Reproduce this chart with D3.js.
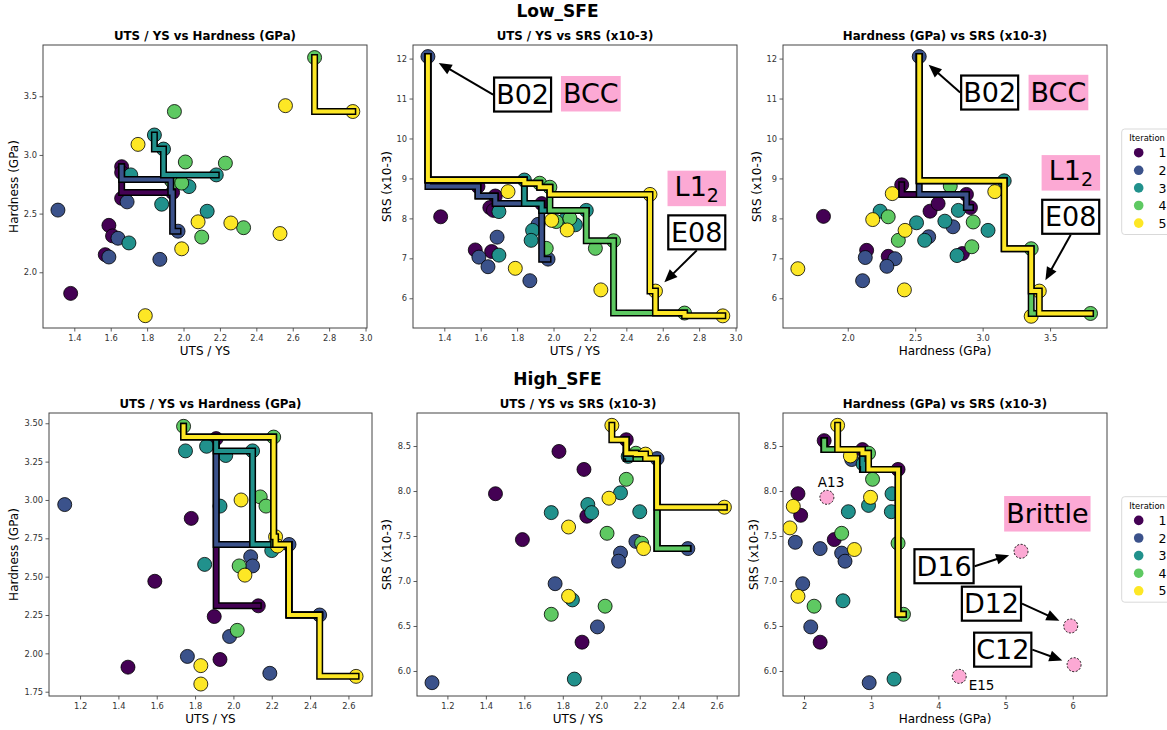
<!DOCTYPE html>
<html>
<head>
<meta charset="utf-8">
<script src="https://cdn.jsdelivr.net/npm/d3@7"></script>
<style>
  body { margin: 0; background: #fff; }
  svg { display: block; font-family: "DejaVu Sans", sans-serif; }
</style>
</head>
<body>
<svg id="chart" width="1167" height="730"></svg>
<script>
const iterations = [1, 2, 3, 4, 5];
const iterColors = ["#440154", "#3b528b", "#21918c", "#5ec962", "#fde725"];
const pink = "#fca9d4";

// points are [iteration, x, y]
const lowUtsHard = [
  [1, 1.66, 2.9], [1, 1.66, 2.85], [1, 1.94, 2.68], [1, 1.66, 2.63], [1, 1.59, 2.4], [1, 1.61, 2.31], [1, 1.57, 2.15], [1, 1.38, 1.82],
  [2, 1.31, 2.53], [2, 1.93, 2.79], [2, 1.97, 2.35], [2, 1.69, 2.6], [2, 1.64, 2.29], [2, 1.59, 2.13], [2, 1.87, 2.11],
  [3, 1.84, 3.17], [3, 1.89, 3.05], [3, 2.18, 2.83], [3, 1.71, 2.83], [3, 2.03, 2.73], [3, 1.88, 2.58], [3, 2.13, 2.52], [3, 1.7, 2.25],
  [4, 2.72, 3.83], [4, 1.95, 3.37], [4, 2.01, 2.94], [4, 2.23, 2.93], [4, 1.94, 2.77], [4, 1.99, 2.76], [4, 2.33, 2.38], [4, 2.1, 2.3],
  [5, 2.56, 3.42], [5, 2.93, 3.37], [5, 1.75, 3.09], [5, 2.08, 2.43], [5, 2.26, 2.42], [5, 2.53, 2.33], [5, 1.99, 2.2], [5, 1.79, 1.63]
];

const lowUtsSrs = [
  [1, 1.38, 8.04], [1, 1.585, 8.8], [1, 1.68, 8.56], [1, 1.65, 8.27], [1, 1.67, 8.2], [1, 1.935, 8.37], [1, 1.57, 7.21], [1, 1.66, 7.17],
  [2, 1.31, 12.05], [2, 1.69, 7.53], [2, 1.59, 7.03], [2, 1.64, 6.79], [2, 1.97, 6.98], [2, 1.87, 6.44], [2, 1.915, 7.85],
  [3, 1.84, 8.96], [3, 1.7, 8.17], [3, 1.7, 7.08], [3, 1.885, 7.7], [3, 1.877, 7.45], [3, 2.12, 7.84], [3, 2.18, 8.2], [3, 2.06, 7.95],
  [4, 1.924, 8.88], [4, 1.98, 8.78], [4, 1.96, 7.25], [4, 2.015, 7.92], [4, 2.09, 8.0], [4, 2.23, 7.25], [4, 2.33, 7.44], [4, 2.72, 5.63],
  [5, 1.75, 8.67], [5, 2.53, 8.6], [5, 2.56, 6.18], [5, 2.26, 6.21], [5, 1.79, 6.75], [5, 1.99, 7.95], [5, 2.075, 7.71], [5, 2.93, 5.56]
];

const lowHardSrs = [
  [1, 1.82, 8.05], [1, 2.4, 8.84], [1, 2.88, 8.6], [1, 2.91, 8.27], [1, 2.61, 8.18], [1, 2.67, 8.37], [1, 2.14, 7.2], [1, 2.3, 7.05], [1, 2.85, 7.12],
  [2, 2.53, 12.05], [2, 2.6, 7.54], [2, 2.78, 7.79], [2, 2.13, 7.02], [2, 2.35, 6.99], [2, 2.29, 6.8], [2, 2.11, 6.44],
  [3, 3.16, 8.94], [3, 2.24, 8.18], [3, 2.51, 7.89], [3, 2.57, 7.45], [3, 2.72, 7.93], [3, 2.82, 8.2], [3, 3.04, 7.7], [3, 2.81, 7.07],
  [4, 3.8, 5.62], [4, 3.36, 7.24], [4, 2.76, 8.81], [4, 2.3, 8.04], [4, 2.375, 7.45], [4, 2.93, 7.91], [4, 2.92, 7.29],
  [5, 1.63, 6.74], [5, 3.36, 5.55], [5, 3.42, 6.18], [5, 3.09, 8.67], [5, 2.33, 8.62], [5, 2.185, 7.97], [5, 2.425, 7.7], [5, 2.42, 6.21]
];

const highUtsHard = [
  [1, 1.91, 3.4], [1, 1.78, 2.88], [1, 1.59, 2.47], [1, 2.13, 2.31], [1, 1.9, 2.24], [1, 1.93, 1.96], [1, 1.45, 1.91],
  [2, 1.12, 2.97], [2, 2.09, 2.63], [2, 2.1, 2.57], [2, 2.29, 2.71], [2, 2.45, 2.25], [2, 1.98, 2.11], [2, 1.76, 1.98], [2, 2.19, 1.87],
  [3, 1.75, 3.32], [3, 1.86, 3.35], [3, 1.96, 3.29], [3, 2.1, 3.32], [3, 1.93, 2.96], [3, 1.85, 2.58], [3, 2.2, 2.67],
  [4, 1.74, 3.48], [4, 2.21, 3.41], [4, 2.14, 3.02], [4, 2.17, 2.96], [4, 2.03, 2.57], [4, 2.02, 2.15],
  [5, 2.04, 3.0], [5, 2.22, 2.76], [5, 2.23, 2.7], [5, 2.06, 2.51], [5, 1.83, 1.92], [5, 1.83, 1.8], [5, 2.64, 1.85]
];

const highUtsSrs = [
  [1, 2.13, 8.57], [1, 1.78, 8.44], [1, 1.91, 8.24], [1, 1.45, 7.97], [1, 1.59, 7.46], [1, 1.925, 7.72], [1, 1.9, 6.32],
  [2, 2.29, 8.36], [2, 2.45, 7.36], [2, 2.18, 7.44], [2, 2.1, 7.31], [2, 2.09, 7.22], [2, 1.76, 6.97], [2, 1.98, 6.49], [2, 1.12, 5.87],
  [3, 2.14, 8.385], [3, 2.1, 7.98], [3, 1.74, 7.76], [3, 1.93, 7.85], [3, 1.95, 7.76], [3, 2.2, 7.77], [3, 1.85, 6.79], [3, 1.86, 5.91],
  [4, 2.18, 8.42], [4, 2.13, 8.13], [4, 2.03, 7.53], [4, 2.21, 7.42], [4, 1.74, 6.63], [4, 2.02, 6.72],
  [5, 2.055, 8.73], [5, 2.23, 8.41], [5, 2.64, 7.82], [5, 2.04, 7.92], [5, 1.83, 7.6], [5, 2.22, 7.36], [5, 1.83, 6.83]
];

const highHardSrs = [
  [1, 2.3, 8.56], [1, 2.87, 8.46], [1, 3.4, 8.24], [1, 1.91, 7.97], [1, 1.95, 7.73], [1, 2.45, 7.46], [1, 2.24, 6.32],
  [2, 2.71, 8.35], [2, 1.87, 7.43], [2, 2.24, 7.36], [2, 2.56, 7.31], [2, 2.61, 7.22], [2, 1.98, 6.97], [2, 2.1, 6.49], [2, 2.97, 5.87],
  [3, 2.88, 8.3], [3, 2.96, 7.84], [3, 3.31, 7.97], [3, 3.3, 7.77], [3, 2.66, 7.77], [3, 2.58, 6.78], [3, 3.34, 5.91],
  [4, 2.96, 8.42], [4, 3.02, 8.13], [4, 3.4, 7.42], [4, 3.48, 6.63], [4, 2.56, 7.53], [4, 2.15, 6.72],
  [5, 2.5, 8.73], [5, 2.69, 8.39], [5, 2.99, 7.93], [5, 1.84, 7.83], [5, 1.79, 7.59], [5, 2.75, 7.35], [5, 1.91, 6.83]
];

// brittle candidates [name, hardness, srs]
const highBrittle = [
  ["A13", 2.34, 7.93], ["D16", 5.23, 7.33], ["D12", 5.97, 6.5], ["C12", 6.02, 6.07], ["E15", 4.31, 5.94]
];

// tick labels
const utsTicksLow = [1.4, 1.6, 1.8, 2.0, 2.2, 2.4, 2.6, 2.8, 3.0];
const hardTicksLow = [2.0, 2.5, 3.0, 3.5];
const hardTicksLowX = [2.0, 2.5, 3.0, 3.5];
const srsTicksLow = [6, 7, 8, 9, 10, 11, 12];
const utsTicksHigh = [1.2, 1.4, 1.6, 1.8, 2.0, 2.2, 2.4, 2.6];
const hardTicksHigh = [1.75, 2.0, 2.25, 2.5, 2.75, 3.0, 3.25, 3.5];
const hardTicksHighX = [2, 3, 4, 5, 6];
const srsTicksHigh = [6.0, 6.5, 7.0, 7.5, 8.0, 8.5];

// annotations: text placed in data coords, optional arrow to a point
const lowUtsSrsNotes = [
  { label: "B02", x: 1.83, y: 11.1, kind: "box", to: [1.31, 12.05], from: "left" },
  { label: "BCC", x: 2.205, y: 11.12, kind: "tag" },
  { label: "L1", sub: "2", x: 2.787, y: 8.75, kind: "tag" },
  { label: "E08", x: 2.787, y: 7.65, kind: "box", to: [2.56, 6.18], from: "bottom" }
];
const lowHardSrsNotes = [
  { label: "B02", x: 3.052, y: 11.15, kind: "box", to: [2.53, 12.05], from: "left" },
  { label: "BCC", x: 3.562, y: 11.15, kind: "tag" },
  { label: "L1", sub: "2", x: 3.654, y: 9.14, kind: "tag" },
  { label: "E08", x: 3.653, y: 8.04, kind: "box", to: [3.42, 6.18], from: "bottom" }
];
const highHardSrsNotes = [
  { label: "Brittle", x: 5.622, y: 7.747, kind: "tag" },
  { label: "D16", x: 4.084, y: 7.164, kind: "box", to: [5.23, 7.33], from: "right" },
  { label: "D12", x: 4.79, y: 6.748, kind: "box", to: [5.97, 6.5], from: "right" },
  { label: "C12", x: 4.958, y: 6.237, kind: "box", to: [6.02, 6.07], from: "right" }
];

const panels = [
  { data: lowUtsHard, left: 43, top: 45, width: 324, xDomain: [1.228, 3.008], yDomain: [1.525, 3.937],
    xTicks: utsTicksLow, yTicks: hardTicksLow, xFmt: ".1f", yFmt: ".1f",
    title: "UTS / YS vs Hardness (GPa)", xLabel: "UTS / YS", yLabel: "Hardness (GPa)", yLabelX: 18 },
  { data: lowUtsSrs, left: 413, top: 45, width: 324, xDomain: [1.228, 3.008], yDomain: [5.256, 12.34],
    xTicks: utsTicksLow, yTicks: srsTicksLow, xFmt: ".1f", yFmt: "d",
    title: "UTS / YS vs SRS (x10-3)", xLabel: "UTS / YS", yLabel: "SRS (x10-3)", yLabelX: 391,
    notes: lowUtsSrsNotes },
  { data: lowHardSrs, left: 783, top: 45, width: 324, xDomain: [1.52, 3.922], yDomain: [5.256, 12.34],
    xTicks: hardTicksLowX, yTicks: srsTicksLow, xFmt: ".1f", yFmt: "d",
    title: "Hardness (GPa) vs SRS (x10-3)", xLabel: "Hardness (GPa)", yLabel: "SRS (x10-3)", yLabelX: 761,
    notes: lowHardSrsNotes },
  { data: highUtsHard, left: 49, top: 413, width: 323, xDomain: [1.038, 2.723], yDomain: [1.722, 3.567],
    xTicks: utsTicksHigh, yTicks: hardTicksHigh, xFmt: ".1f", yFmt: ".2f",
    title: "UTS / YS vs Hardness (GPa)", xLabel: "UTS / YS", yLabel: "Hardness (GPa)", yLabelX: 18 },
  { data: highUtsSrs, left: 417, top: 413, width: 322, xDomain: [1.042, 2.716], yDomain: [5.722, 8.867],
    xTicks: utsTicksHigh, yTicks: srsTicksHigh, xFmt: ".1f", yFmt: ".1f",
    title: "UTS / YS vs SRS (x10-3)", xLabel: "UTS / YS", yLabel: "SRS (x10-3)", yLabelX: 390.5 },
  { data: highHardSrs, left: 783, top: 413, width: 324, xDomain: [1.687, 6.51], yDomain: [5.722, 8.867],
    xTicks: hardTicksHighX, yTicks: srsTicksHigh, xFmt: "d", yFmt: ".1f",
    title: "Hardness (GPa) vs SRS (x10-3)", xLabel: "Hardness (GPa)", yLabel: "SRS (x10-3)", yLabelX: 758,
    notes: highHardSrsNotes, brittle: highBrittle }
];

const plotHeight = 283;

main();

function main() {
  const svg = d3.select("#chart");
  svg.append("rect").attr("width", 1167).attr("height", 730).attr("fill", "#fff");

  svg.append("text").text("Low_SFE")
    .attr("x", 557.5).attr("y", 16.5)
    .attr("text-anchor", "middle").attr("font-size", 17).attr("font-weight", "bold");
  svg.append("text").text("High_SFE")
    .attr("x", 557.5).attr("y", 384.5)
    .attr("text-anchor", "middle").attr("font-size", 17).attr("font-weight", "bold");

  panels.forEach((cfg, i) => drawPanel(svg, cfg, i));

  drawLegend(svg, 129);
  drawLegend(svg, 496.7);
}

// pareto front (maximise both), returned in ascending x
function paretoFront(points) {
  const sorted = points.slice().sort((a, b) => b[1] - a[1] || b[2] - a[2]);
  const front = [];
  let best = -Infinity;
  for (const p of sorted) {
    if (p[2] > best) {
      front.push(p);
      best = p[2];
    }
  }
  return front.reverse();
}

function drawPanel(svg, cfg, idx) {
  const bottom = cfg.top + plotHeight;
  const right = cfg.left + cfg.width;

  const xScale = d3.scaleLinear().domain(cfg.xDomain).range([cfg.left, right]);
  const yScale = d3.scaleLinear().domain(cfg.yDomain).range([bottom, cfg.top]);

  const g = svg.append("g");
  const clipId = "clip" + idx;
  g.append("clipPath").attr("id", clipId)
    .append("rect")
    .attr("x", cfg.left).attr("y", cfg.top)
    .attr("width", cfg.width).attr("height", plotHeight);

  const xAxis = d3.axisBottom(xScale)
    .tickValues(cfg.xTicks)
    .tickFormat(d3.format(cfg.xFmt))
    .tickSize(3.5)
    .tickPadding(4);
  const yAxis = d3.axisLeft(yScale)
    .tickValues(cfg.yTicks)
    .tickFormat(d3.format(cfg.yFmt))
    .tickSize(3.5)
    .tickPadding(2.5);

  const xg = g.append("g").attr("transform", `translate(0, ${bottom})`).call(xAxis);
  const yg = g.append("g").attr("transform", `translate(${cfg.left}, 0)`).call(yAxis);
  [xg, yg].forEach((ax) => {
    ax.select(".domain").remove();
    ax.attr("font-family", "DejaVu Sans").attr("font-size", 8.3).attr("color", "#333");
    ax.selectAll("line").attr("stroke-width", 0.8);
  });

  const plot = g.append("g").attr("clip-path", `url(#${clipId})`);

  const points = cfg.data.slice().sort((a, b) => a[0] - b[0]);
  plot.selectAll("circle.pt")
    .data(points)
    .join("circle")
    .attr("class", "pt")
    .attr("cx", (d) => xScale(d[1]))
    .attr("cy", (d) => yScale(d[2]))
    .attr("r", 7)
    .attr("fill", (d) => iterColors[d[0] - 1])
    .attr("stroke", "#000")
    .attr("stroke-width", 0.8);

  if (cfg.brittle) {
    plot.selectAll("circle.brittle")
      .data(cfg.brittle)
      .join("circle")
      .attr("class", "brittle")
      .attr("cx", (d) => xScale(d[1]))
      .attr("cy", (d) => yScale(d[2]))
      .attr("r", 7)
      .attr("fill", pink)
      .attr("stroke", "#000")
      .attr("stroke-width", 0.9)
      .attr("stroke-dasharray", "2,1.6");
  }

  const stepLine = d3.line()
    .x((d) => xScale(d[1]))
    .y((d) => yScale(d[2]))
    .curve(d3.curveStepBefore);

  iterations.forEach((it) => {
    const front = paretoFront(cfg.data.filter((d) => d[0] <= it));
    if (front.length < 2) {
      return;
    }
    plot.append("path")
      .attr("d", stepLine(front))
      .attr("fill", "none")
      .attr("stroke", "#000")
      .attr("stroke-width", 7)
      .attr("stroke-linejoin", "miter")
      .attr("stroke-linecap", "square");
    plot.append("path")
      .attr("d", stepLine(front))
      .attr("fill", "none")
      .attr("stroke", iterColors[it - 1])
      .attr("stroke-width", 4)
      .attr("stroke-linejoin", "miter")
      .attr("stroke-linecap", "square");
  });

  // frame
  g.append("rect")
    .attr("x", cfg.left).attr("y", cfg.top)
    .attr("width", cfg.width).attr("height", plotHeight)
    .attr("fill", "none")
    .attr("stroke", "#444")
    .attr("stroke-width", 1);

  g.append("text").text(cfg.title)
    .attr("x", (cfg.left + right) / 2).attr("y", cfg.top - 5)
    .attr("text-anchor", "middle").attr("font-size", 11.8).attr("font-weight", "bold");

  g.append("text").text(cfg.xLabel)
    .attr("x", (cfg.left + right) / 2).attr("y", bottom + 27)
    .attr("text-anchor", "middle").attr("font-size", 12);

  g.append("text").text(cfg.yLabel)
    .attr("transform", `translate(${cfg.yLabelX}, ${(cfg.top + bottom) / 2}) rotate(-90)`)
    .attr("text-anchor", "middle").attr("font-size", 12);

  if (cfg.brittle) {
    const small = { A13: [-9, -10], E15: [9.5, 14] };
    cfg.brittle.forEach((b) => {
      if (!small[b[0]]) {
        return;
      }
      g.append("text").text(b[0])
        .attr("x", xScale(b[1]) + small[b[0]][0])
        .attr("y", yScale(b[2]) + small[b[0]][1])
        .attr("font-size", 13.5);
    });
  }

  if (cfg.notes) {
    drawNotes(g, xScale, yScale, cfg.notes);
  }
}

function drawNotes(g, xScale, yScale, notes) {
  notes.forEach((n) => {
    const cx = xScale(n.x);
    const cy = yScale(n.y);
    const box = g.append("g");
    const rect = box.append("rect");
    const t = box.append("text")
      .attr("x", cx)
      .attr("y", cy + (n.sub ? 7.5 : 9.5))
      .attr("text-anchor", "middle")
      .attr("font-size", 27)
      .text(n.label);
    if (n.sub) {
      t.append("tspan").attr("font-size", 19).attr("dy", 6).text(n.sub);
    }
    const bb = t.node().getBBox();
    const bw = Math.max(bb.width + 4, n.kind === "tag" ? 58.5 : 57);
    const bh = n.kind === "tag" ? 35.5 : 34;
    rect.attr("x", cx - bw / 2).attr("y", cy - bh / 2)
      .attr("width", bw).attr("height", bh);
    if (n.kind === "tag") {
      rect.attr("fill", pink);
    } else {
      rect.attr("fill", "#fff").attr("stroke", "#000").attr("stroke-width", 2.2);
    }

    if (n.to) {
      let sx = cx;
      let sy = cy;
      if (n.from === "left") sx = cx - bw / 2 - 1;
      if (n.from === "right") sx = cx + bw / 2 + 1;
      if (n.from === "bottom") sy = cy + bh / 2 + 1;
      const tx = xScale(n.to[0]);
      const ty = yScale(n.to[1]);
      const len = Math.hypot(tx - sx, ty - sy);
      const ux = (tx - sx) / len;
      const uy = (ty - sy) / len;
      drawArrow(g, sx, sy, tx - ux * 12.5, ty - uy * 12.5);
    }
  });
}

function drawArrow(g, x0, y0, x1, y1) {
  const len = Math.hypot(x1 - x0, y1 - y0);
  const ux = (x1 - x0) / len;
  const uy = (y1 - y0) / len;
  const headLen = 13;
  const headHalf = 5.5;
  const bx = x1 - ux * headLen;
  const by = y1 - uy * headLen;
  g.append("line")
    .attr("x1", x0).attr("y1", y0)
    .attr("x2", bx + ux * 2).attr("y2", by + uy * 2)
    .attr("stroke", "#000").attr("stroke-width", 2);
  g.append("path")
    .attr("d", `M${x1},${y1}L${bx - uy * headHalf},${by + ux * headHalf}L${bx + uy * headHalf},${by - ux * headHalf}Z`)
    .attr("fill", "#000");
}

function drawLegend(svg, top) {
  const g = svg.append("g");
  g.append("rect")
    .attr("x", 1121.7).attr("y", top)
    .attr("width", 70).attr("height", 105.5)
    .attr("rx", 3)
    .attr("fill", "#fff")
    .attr("stroke", "#d5d5d5")
    .attr("stroke-width", 0.9);
  g.append("text").text("Iteration")
    .attr("x", 1129.3).attr("y", top + 11.8)
    .attr("font-size", 8.4);
  iterations.forEach((it, i) => {
    const cy = top + 23.7 + i * 17.6;
    g.append("circle")
      .attr("cx", 1138.7).attr("cy", cy).attr("r", 4.8)
      .attr("fill", iterColors[i]);
    g.append("text").text(it)
      .attr("x", 1158.5).attr("y", cy + 4.6)
      .attr("font-size", 12.5);
  });
}
</script>
</body>
</html>
